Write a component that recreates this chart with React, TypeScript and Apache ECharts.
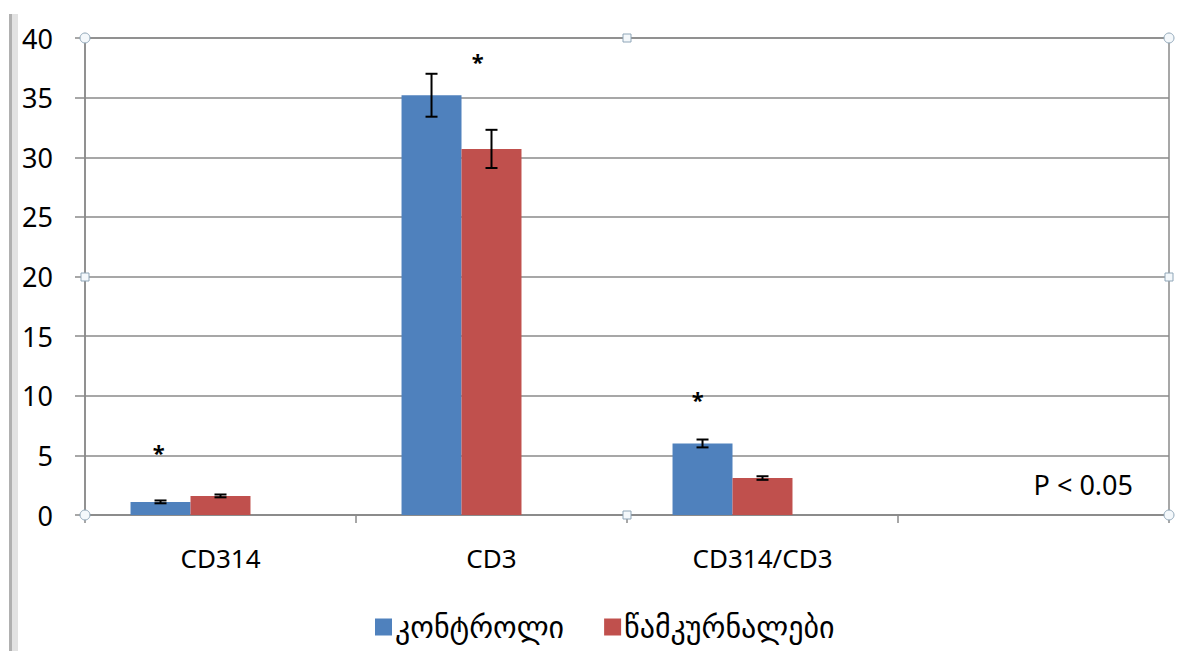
import React, { useEffect, useRef } from "react";
import * as echarts from "echarts";

const categories = ["CD314", "CD3", "CD314/CD3", ""];
const seriesNames = ["კონტროლი", "წამკურნალები"];
const controlValues = [1.1, 35.2, 6.0];
const controlErrors = [0.12, 1.8, 0.33];
const treatedValues = [1.6, 30.7, 3.1];
const treatedErrors = [0.12, 1.6, 0.15];
const sigMarkValues = [5.3, 38.1, 9.7];
const yTicks = { min: 0, max: 40, interval: 5 };
const noteText = "P < 0.05";

// layout constants (in bar-width units relative to category centre)
const CAT_GAP = 0.336;
const CONTROL_OFFSET = -1;
const TREATED_OFFSET = 0;
const SIG_OFFSET = [-1.03, -0.23, -1.08];

const FONT = "'Noto Sans', 'DejaVu Sans', sans-serif";

export default function App() {
  const ref = useRef<HTMLDivElement>(null);
  useEffect(() => {
    if (!ref.current) return;
    const chart = echarts.init(ref.current, null, { renderer: "svg" });

    const errData = (vals: number[], errs: number[]) =>
      vals.map((v, i) => [i, v, errs[i]]);

    const errorRender = (offset: number) => (params: any, api: any) => {
      const idx = api.value(0);
      const mean = api.value(1);
      const err = api.value(2);
      const bandW = api.size([1, 0])[0];
      const bw = (bandW * (1 - CAT_GAP)) / 3;
      const cx = api.coord([idx, mean])[0] + offset * bw;
      const yTop = api.coord([idx, mean + err])[1];
      const yBot = api.coord([idx, mean - err])[1];
      const hw = 6;
      const st = { stroke: "#000", lineWidth: 2 };
      return {
        type: "group",
        children: [
          { type: "line", shape: { x1: cx, y1: yTop, x2: cx, y2: yBot }, style: st },
          { type: "line", shape: { x1: cx - hw, y1: yTop, x2: cx + hw, y2: yTop }, style: st },
          { type: "line", shape: { x1: cx - hw, y1: yBot, x2: cx + hw, y2: yBot }, style: st },
        ],
      };
    };

    const sigRender = (params: any, api: any) => {
      const idx = api.value(0);
      const v = api.value(1);
      const bandW = api.size([1, 0])[0];
      const bw = (bandW * (1 - CAT_GAP)) / 3;
      const p = api.coord([idx, v]);
      return {
        type: "text",
        x: p[0] + SIG_OFFSET[idx] * bw,
        y: p[1],
        style: {
          text: "*",
          fontSize: 22,
          fontWeight: "bold",
          fontFamily: FONT,
          fill: "#000",
          align: "center",
          verticalAlign: "middle",
        },
      };
    };

    const handleStyle = { fill: "#f4f8fb", stroke: "#8fa6b8", lineWidth: 1 };
    const circ = (x: number, y: number) => ({
      type: "circle",
      shape: { cx: x, cy: y, r: 5 },
      style: handleStyle,
      z: 100,
    });
    const sq = (x: number, y: number) => ({
      type: "rect",
      shape: { x: x - 4, y: y - 4, width: 8, height: 8 },
      style: handleStyle,
      z: 100,
    });

    chart.setOption({
      animation: false,
      backgroundColor: "#fff",
      grid: {
        left: 85,
        right: 22,
        top: 38,
        bottom: 136,
        show: true,
        borderColor: "#8a8a8a",
        borderWidth: 1.5,
      },
      legend: {
        data: seriesNames,
        left: 370,
        top: 607,
        itemWidth: 17,
        itemHeight: 17,
        itemGap: 40,
        icon: "rect",
        textStyle: { fontSize: 30, fontFamily: "'DejaVu Sans', sans-serif", color: "#000", padding: [0, 0, 0, -2] },
      },
      xAxis: {
        type: "category",
        data: categories,
        axisLine: { lineStyle: { color: "#8a8a8a", width: 1.5 } },
        axisTick: { show: true, length: 8, lineStyle: { color: "#8a8a8a", width: 1.5 } },
        axisLabel: { fontSize: 26, fontFamily: FONT, color: "#000", margin: 30 },
      },
      yAxis: {
        type: "value",
        min: yTicks.min,
        max: yTicks.max,
        interval: yTicks.interval,
        axisLine: { show: true, lineStyle: { color: "#8a8a8a", width: 1.5 } },
        axisTick: { show: true, length: 10, lineStyle: { color: "#8a8a8a", width: 1.5 } },
        axisLabel: { fontSize: 27, fontFamily: FONT, color: "#000", margin: 32 },
        splitLine: { lineStyle: { color: "#8a8a8a", width: 1.5 } },
      },
      series: [
        {
          name: seriesNames[0],
          type: "bar",
          data: controlValues,
          itemStyle: { color: "#4F81BD" },
          barGap: "0%",
          barCategoryGap: (CAT_GAP * 100).toFixed(1) + "%",
        },
        {
          name: seriesNames[1],
          type: "bar",
          data: treatedValues,
          itemStyle: { color: "#C0504D" },
          barGap: "0%",
          barCategoryGap: (CAT_GAP * 100).toFixed(1) + "%",
        },
        {
          name: "blank",
          type: "bar",
          data: [null, null, null, null],
          barGap: "0%",
          barCategoryGap: (CAT_GAP * 100).toFixed(1) + "%",
        },
        {
          type: "custom",
          renderItem: errorRender(CONTROL_OFFSET),
          data: errData(controlValues, controlErrors),
          encode: { x: 0, y: 1 },
          z: 10,
        },
        {
          type: "custom",
          renderItem: errorRender(TREATED_OFFSET),
          data: errData(treatedValues, treatedErrors),
          encode: { x: 0, y: 1 },
          z: 10,
        },
        {
          type: "custom",
          renderItem: sigRender,
          data: sigMarkValues.map((v, i) => [i, v]),
          encode: { x: 0, y: 1 },
          z: 10,
        },
      ],
      graphic: [
        { type: "rect", shape: { x: 9, y: 14, width: 3, height: 637 }, style: { fill: "#b0b0b0" } },
        { type: "rect", shape: { x: 12, y: 14, width: 6, height: 637 }, style: { fill: "#e2e2e2" } },
        {
          type: "text",
          x: 1133,
          y: 484,
          style: {
            text: noteText,
            fontSize: 27,
            fontFamily: FONT,
            fill: "#000",
            align: "right",
            verticalAlign: "middle",
          },
        },
        circ(85, 38),
        circ(1169, 38),
        circ(85, 515),
        circ(1169, 515),
        sq(627, 38),
        sq(627, 515),
        sq(85, 277),
        sq(1169, 277),
      ],
    });
    return () => chart.dispose();
  }, []);
  return (
    <div
      ref={ref}
      style={{ position: "absolute", left: 0, top: 0, width: 1191, height: 651 }}
    />
  );
}
